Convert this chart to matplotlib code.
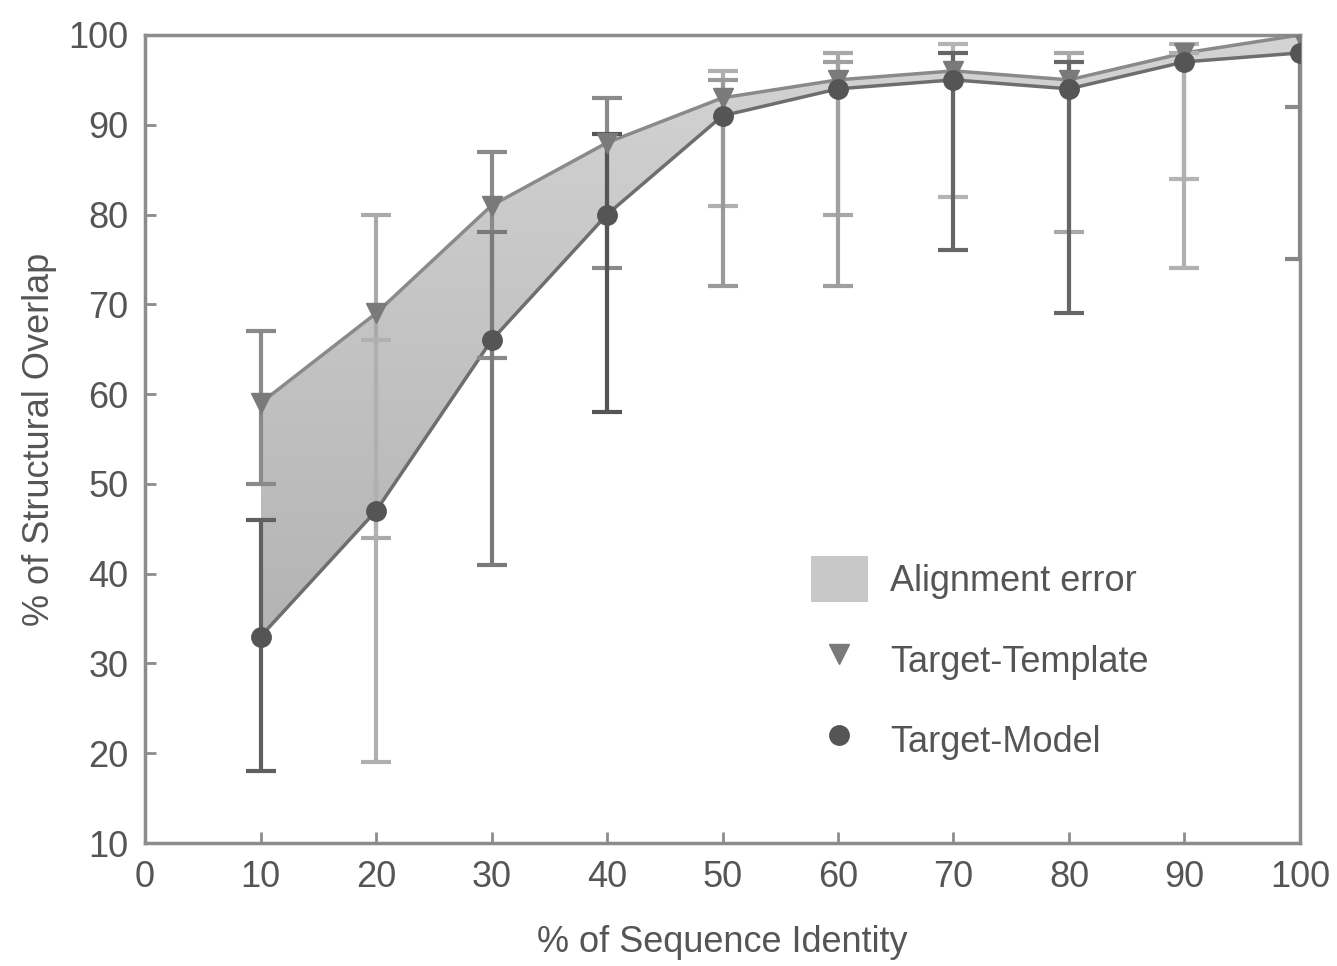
import numpy as np
import matplotlib
matplotlib.use("Agg")
import matplotlib.pyplot as plt
from matplotlib.patches import Patch
from matplotlib.lines import Line2D
from matplotlib.colors import LinearSegmentedColormap

plt.rcParams['font.family'] = ['Liberation Sans', 'DejaVu Sans']

identity = [10, 20, 30, 40, 50, 60, 70, 80, 90, 100]
template = [59, 69, 81, 88, 93, 95, 96, 95, 98, 100]
template_lo = [50, 44, 64, 74, 81, 80, 82, 78, 84, 92]
template_hi = [67, 80, 87, 93, 96, 98, 99, 98, 99, 100]
model = [33, 47, 66, 80, 91, 94, 95, 94, 97, 98]
model_lo = [18, 19, 41, 58, 72, 72, 76, 69, 74, 75]
model_hi = [46, 66, 78, 89, 95, 97, 98, 97, 98, 100]

# shade of each error bar as it appears in the figure
template_bar_col = ['#8a8a8a', '#aaaaaa', '#8a8a8a', '#8a8a8a', '#b0b0b0',
                    '#a8a8a8', '#b4b4b4', '#a8a8a8', '#b4b4b4', '#8a8a8a']
model_bar_col = ['#606060', '#b0b0b0', '#7a7a7a', '#555555', '#9a9a9a',
                 '#a0a0a0', '#666666', '#666666', '#b0b0b0', '#858585']

x = np.array(identity)
t = np.array(template)
m = np.array(model)

fig = plt.figure(figsize=(13.37, 9.66), dpi=100)
ax = fig.add_axes([0.1085, 0.1273, 0.8638, 0.8365])

# shaded alignment error with a soft gradient
poly = ax.fill_between(x, m, t, color='#c6c6c6', lw=0, zorder=1)
grad = np.linspace(0, 1, 256).reshape(-1, 1)
cmap = LinearSegmentedColormap.from_list('g', ['#b2b2b2', '#d4d4d4'])
img = ax.imshow(grad, extent=[10, 100, 30, 100], aspect='auto', cmap=cmap,
                origin='lower', zorder=1.5)
img.set_clip_path(poly.get_paths()[0], transform=ax.transData)

ax.plot(x, t, color='#8a8a8a', lw=2.5, zorder=2)
ax.plot(x, m, color='#6e6e6e', lw=2.5, zorder=2)

# error bars
for i in range(len(x)):
    ax.errorbar(x[i], t[i], yerr=[[t[i] - template_lo[i]], [template_hi[i] - t[i]]],
                fmt='none', ecolor=template_bar_col[i], elinewidth=3, capsize=11,
                capthick=3, zorder=3)
    ax.errorbar(x[i], m[i], yerr=[[m[i] - model_lo[i]], [model_hi[i] - m[i]]],
                fmt='none', ecolor=model_bar_col[i], elinewidth=3, capsize=11,
                capthick=3, zorder=3)

ax.plot(x, t, 'v', color='#7a7a7a', ms=14, zorder=4)
ax.plot(x, m, 'o', color='#555555', ms=14, zorder=4)

ax.set_xlim(0, 100)
ax.set_ylim(10, 100)
ax.set_xticks(range(0, 101, 10))
ax.set_yticks(range(10, 101, 10))
ax.tick_params(direction='in', length=8, width=2, color='#8c8c8c',
               labelsize=26, labelcolor='#555555', pad=12)
for s in ax.spines.values():
    s.set_color('#8c8c8c')
    s.set_linewidth(2.5)

ax.set_xlabel('% of Sequence Identity', fontsize=26, color='#555555', labelpad=22)
ax.set_ylabel('% of Structural Overlap', fontsize=26, color='#555555', labelpad=8)

handles = [Patch(facecolor='#c8c8c8', edgecolor='none'),
           Line2D([], [], ls='none', marker='v', color='#7a7a7a', ms=14),
           Line2D([], [], ls='none', marker='o', color='#555555', ms=14)]
ax.legend(handles, ['Alignment error', 'Target-Template', 'Target-Model'],
          loc='lower right', bbox_to_anchor=(0.897, 0.058), frameon=False,
          fontsize=26, labelcolor='#555555', labelspacing=0.95,
          handlelength=1.6, handleheight=1.6, handletextpad=0.6)

plt.savefig('out.png', dpi=100)
